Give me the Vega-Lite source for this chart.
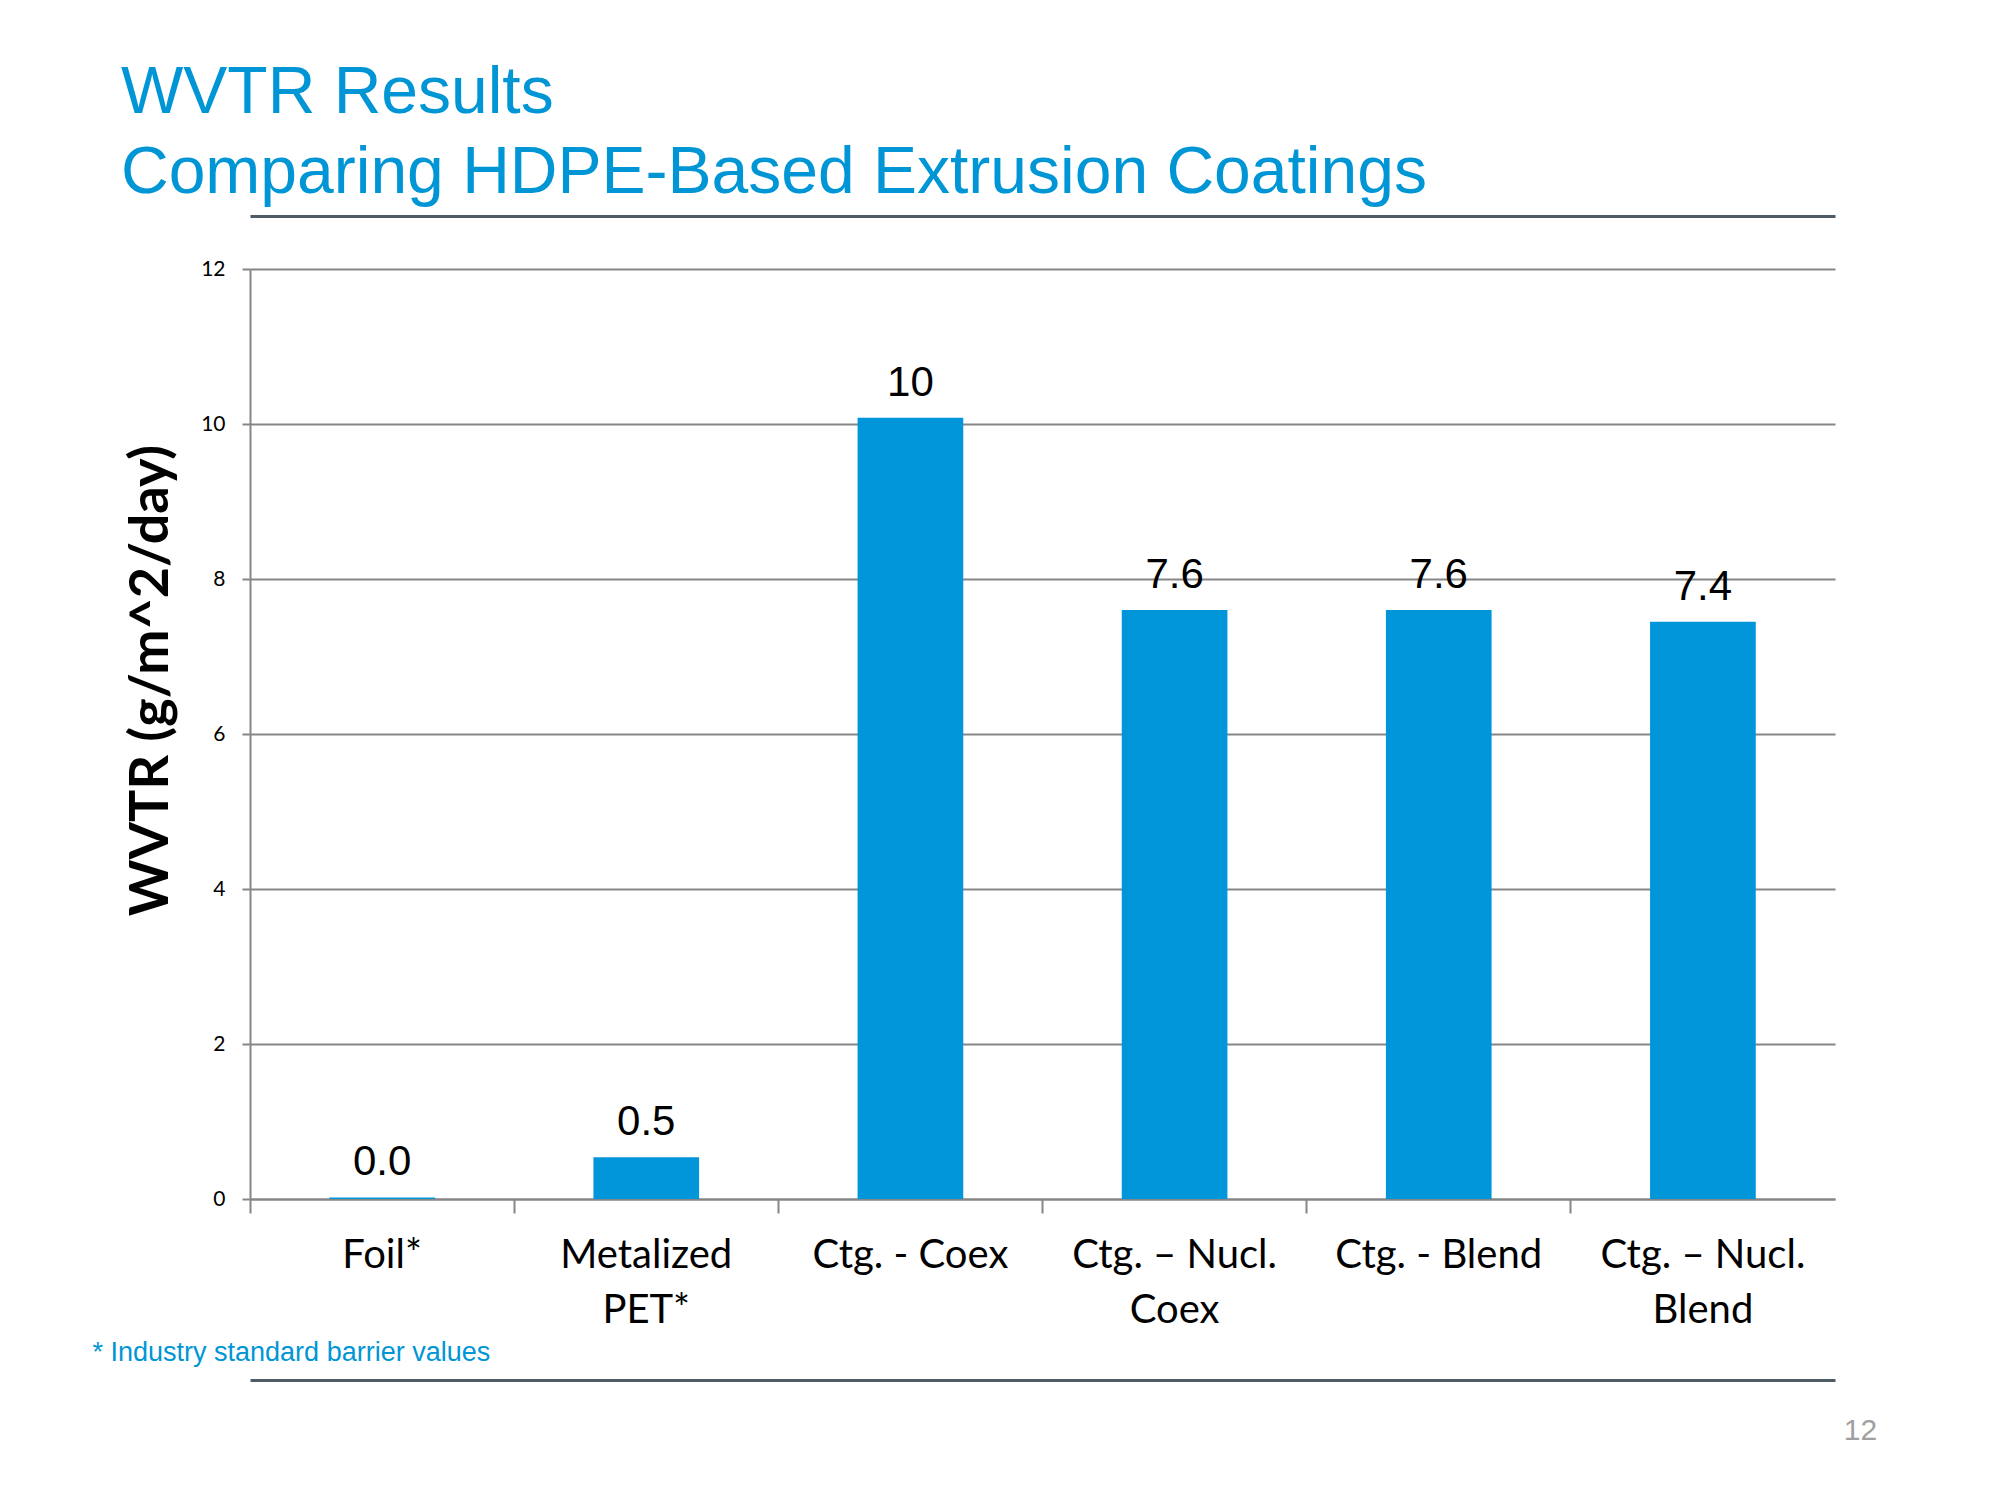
{
  "$schema": "https://vega.github.io/schema/vega-lite/v6.json",
  "width": 1585,
  "height": 930,
  "autosize": {"type": "none"},
  "padding": {"left": 250, "top": 269, "right": 165, "bottom": 301},
  "background": "white",
  "title": {
    "text": ["WVTR Results", "Comparing HDPE-Based Extrusion Coatings"],
    "anchor": "start",
    "frame": "group",
    "dx": -129,
    "dy": 57,
    "offset": 0,
    "baseline": "bottom",
    "font": "Liberation Sans",
    "fontSize": 66,
    "fontWeight": "normal",
    "color": "#0096d6",
    "lineHeight": 80
  },
  "config": {"view": {"stroke": null}},
  "data": {
    "values": [
      {"material": "Foil*", "wvtr": 0.02, "label": "0.0"},
      {"material": "Metalized PET*", "wvtr": 0.54, "label": "0.5"},
      {"material": "Ctg. - Coex", "wvtr": 10.08, "label": "10"},
      {"material": "Ctg. – Nucl. Coex", "wvtr": 7.6, "label": "7.6"},
      {"material": "Ctg. - Blend", "wvtr": 7.6, "label": "7.6"},
      {"material": "Ctg. – Nucl. Blend", "wvtr": 7.45, "label": "7.4"}
    ]
  },
  "resolve": {"axis": {"x": "independent"}},
  "encoding": {
    "y": {
      "field": "wvtr",
      "type": "quantitative",
      "scale": {"domain": [0, 12], "nice": false},
      "axis": {
        "values": [0, 2, 4, 6, 8, 10, 12],
        "format": "d",
        "title": "WVTR (g/m^2/day)",
        "titleFont": "Lato",
        "titleFontSize": 54,
        "titleFontWeight": "bold",
        "titleColor": "black",
        "titleAngle": -90,
        "titleX": -72,
        "titleY": 411,
        "titleAlign": "center",
        "labelFont": "Lato",
        "labelFontSize": 21,
        "labelColor": "black",
        "labelPadding": 17,
        "tickSize": 8,
        "tickWidth": 2,
        "tickColor": "#868686",
        "domainColor": "#868686",
        "domainWidth": 2,
        "grid": true,
        "gridColor": "#868686",
        "gridWidth": 2
      }
    }
  },
  "layer": [
    {
      "mark": {"type": "bar", "color": "#0096d9", "width": {"band": 0.4}},
      "encoding": {
        "x": {
          "field": "material",
          "type": "nominal",
          "sort": null,
          "scale": {"paddingInner": 0, "paddingOuter": 0},
          "axis": {
            "orient": "bottom",
            "title": "* Industry standard barrier values",
            "titleFont": "Liberation Sans",
            "titleFontSize": 27,
            "titleFontWeight": "normal",
            "titleColor": "#0096d6",
            "titleX": -158,
            "titleY": 140,
            "titleAlign": "left",
            "labelAngle": 0,
            "labelFont": "Lato",
            "labelFontSize": 40,
            "labelColor": "black",
            "labelLimit": 500,
            "labelPadding": 22,
            "labelLineHeight": 55,
            "labelExpr": "indexof(datum.value, ' ') > 0 && (indexof(datum.value, '–') > 0 || indexof(datum.value, 'Metalized') == 0) ? [slice(datum.value, 0, lastindexof(datum.value, ' ')), slice(datum.value, lastindexof(datum.value, ' ') + 1)] : datum.value",
            "bandPosition": 0,
            "tickSize": 14,
            "tickWidth": 2,
            "tickColor": "#868686",
            "domainColor": "#868686",
            "domainWidth": 2
          }
        }
      }
    },
    {
      "mark": {"type": "text", "dy": -22, "baseline": "alphabetic", "font": "Liberation Sans", "fontSize": 42, "color": "black"},
      "encoding": {
        "x": {
          "field": "material",
          "type": "nominal",
          "sort": null,
          "axis": {
            "orient": "bottom",
            "offset": 181,
            "domain": true,
            "domainColor": "#4f5b65",
            "domainWidth": 3,
            "ticks": false,
            "labels": false,
            "grid": false,
            "title": "12",
            "titleX": 1610,
            "titleY": 35,
            "titleAlign": "center",
            "titleFont": "Liberation Sans",
            "titleFontSize": 30,
            "titleFontWeight": "normal",
            "titleColor": "#a0a0a0"
          }
        },
        "text": {"field": "label", "type": "nominal"}
      }
    },
    {
      "mark": {"type": "text", "text": ""},
      "encoding": {
        "x": {
          "field": "material",
          "type": "nominal",
          "sort": null,
          "axis": {
            "orient": "top",
            "offset": 53,
            "domain": true,
            "domainColor": "#4f5b65",
            "domainWidth": 3,
            "ticks": false,
            "labels": false,
            "grid": false,
            "title": null
          }
        }
      }
    }
  ]
}
